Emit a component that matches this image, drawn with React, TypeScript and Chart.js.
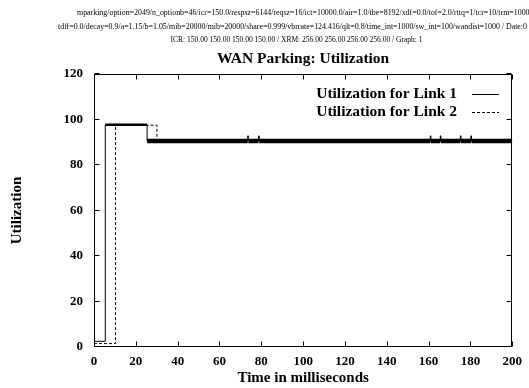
import { useEffect, useRef } from "react";
import { Chart, registerables } from "chart.js";

Chart.register(...registerables);

// Run description printed above the plot
const headerLines = [
  "mparking/option=2049/n_optionb=46/icr=150.0/respsz=6144/reqsz=16/ict=10000.0/air=1.0/tbe=8192/xdf=0.0/tof=2.0/rttq=1/tcr=10/trm=1000",
  "tdff=0.0/decay=0.9/a=1.15/b=1.05/mib=20000/mib=20000/share=0.999/vbrrate=124.416/qlt=0.8/time_int=1000/sw_int=100/wandist=1000 / Date:0",
  "ICR: 150.00 150.00 150.00 150.00 / XRM: 256.00 256.00 256.00 256.00 / Graph: 1",
];
const chartTitle = "WAN Parking: Utilization";
const xTitle = "Time in milliseconds";
const yTitle = "Utilization";
const seriesNames = ["Utilization for Link 1", "Utilization for Link 2"];

// Link 1 utilization (step samples, ms / percent)
const link1Time = [0, 5.4, 25.4, 25.4, 73.5, 73.5, 73.8, 78.7, 78.7, 79.0, 160.8, 160.8, 161.1, 165.6, 165.6, 165.9, 175.2, 175.2, 175.5, 180.2, 180.2, 180.5, 200];
const link1Util = [2.5, 97.7, 97.7, 90.5, 90.5, 92.8, 90.5, 90.5, 92.8, 90.5, 90.5, 92.8, 90.5, 90.5, 92.8, 90.5, 90.5, 92.8, 90.5, 90.5, 92.8, 90.5, 90.5];

// Link 2 utilization
const link2Time = [0, 10.3, 30.1, 200];
const link2Util = [1.5, 97.5, 90.5, 90.5];

// Axis ranges
const xMin = 0, xMax = 200, xStep = 20;
const yMin = 0, yMax = 120, yStep = 20;

const serif = "'Liberation Serif', 'Times New Roman', serif";

const toPoints = (xs: number[], ys: number[]) => xs.map((x, i) => ({ x, y: ys[i] }));

const decorations = {
  id: "decorations",
  afterDraw(chart: any) {
    const { ctx, chartArea: a, scales } = chart;
    const L = Math.round(a.left) + 0.5;
    const R = Math.round(a.right) - 0.5;
    const T = Math.round(a.top) + 0.5;
    const B = Math.round(a.bottom) - 0.5;
    ctx.save();
    ctx.fillStyle = "#000";
    ctx.strokeStyle = "#000";

    // header lines
    ctx.font = `7.9px ${serif}`;
    ctx.textBaseline = "middle";
    ctx.textAlign = "left";
    ctx.fillText(headerLines[0], 77, 12.5);
    ctx.fillText(headerLines[1], 58, 26.5);
    ctx.font = `7.5px ${serif}`;
    ctx.textAlign = "center";
    ctx.fillText(headerLines[2], 296.5, 40.5);

    // title
    ctx.font = `bold 15.5px ${serif}`;
    ctx.fillText(chartTitle, (a.left + a.right) / 2, 59);

    // axis titles
    ctx.font = `bold 15px ${serif}`;
    ctx.fillText(xTitle, (a.left + a.right) / 2, 378);
    ctx.save();
    ctx.translate(17, (a.top + a.bottom) / 2);
    ctx.rotate(-Math.PI / 2);
    ctx.fillText(yTitle, 0, 0);
    ctx.restore();

    // frame
    ctx.lineWidth = 1;
    ctx.setLineDash([]);
    ctx.beginPath();
    ctx.rect(L, T, R - L, B - T);
    ctx.stroke();

    // inward tick marks on all four sides
    const tl = 5;
    ctx.beginPath();
    for (const t of scales.y.ticks) {
      const py = Math.round(scales.y.getPixelForValue(t.value)) - 0.5;
      ctx.moveTo(L, py); ctx.lineTo(L + tl, py);
      ctx.moveTo(R, py); ctx.lineTo(R - tl, py);
    }
    for (const t of scales.x.ticks) {
      const px = Math.round(scales.x.getPixelForValue(t.value)) + 0.5;
      ctx.moveTo(px, B); ctx.lineTo(px, B - tl);
      ctx.moveTo(px, T); ctx.lineTo(px, T + tl);
    }
    ctx.stroke();

    // legend
    ctx.font = `bold 15.5px ${serif}`;
    ctx.textAlign = "right";
    const rows = [94, 112];
    chart.data.datasets.forEach((ds: any, i: number) => {
      const y = rows[i];
      ctx.fillText(ds.label, 457, y);
      ctx.beginPath();
      ctx.lineWidth = 1;
      ctx.setLineDash(ds.borderDash || []);
      ctx.moveTo(472, y + 0.5);
      ctx.lineTo(499, y + 0.5);
      ctx.stroke();
    });
    ctx.restore();
  },
};

export default function App() {
  const canvasRef = useRef<HTMLCanvasElement | null>(null);

  useEffect(() => {
    const canvas = canvasRef.current;
    if (!canvas) return;
    // thicker strokes where the utilization jitters tightly around a level
    const widthFor = (ctx: any) => {
      const a = ctx.p0.parsed.y;
      const b = ctx.p1.parsed.y;
      if (a === b && a > 95) return 2.5;
      if (a === b && a > 85) return 4.5;
      return 1;
    };
    const chart = new Chart(canvas, {
      type: "line",
      data: {
        datasets: [
          {
            label: seriesNames[0],
            data: toPoints(link1Time, link1Util),
            borderColor: "#000",
            borderWidth: 1,
            pointRadius: 0,
            stepped: "before",
            segment: { borderWidth: widthFor },
          },
          {
            label: seriesNames[1],
            data: toPoints(link2Time, link2Util),
            borderColor: "#000",
            borderWidth: 1,
            borderDash: [3, 2],
            pointRadius: 0,
            stepped: "before",
          },
        ],
      },
      options: {
        responsive: false,
        animation: false,
        layout: { padding: { left: 0, top: 74, right: 15, bottom: 0 } },
        plugins: {
          legend: { display: false },
          title: { display: false },
          tooltip: { enabled: false },
        },
        scales: {
          x: {
            type: "linear",
            min: xMin,
            max: xMax,
            grid: { display: false, drawTicks: false },
            border: { display: false },
            ticks: {
              stepSize: xStep,
              padding: 7,
              color: "#000",
              font: { family: serif, size: 13, weight: "bold" },
            },
            afterFit: (s: any) => { s.height = 41; },
          },
          y: {
            type: "linear",
            min: yMin,
            max: yMax,
            grid: { display: false, drawTicks: false },
            border: { display: false },
            ticks: {
              stepSize: yStep,
              padding: 11,
              color: "#000",
              font: { family: serif, size: 13, weight: "bold" },
            },
            afterFit: (s: any) => { s.width = 94; },
          },
        },
      },
      plugins: [decorations],
    });
    return () => chart.destroy();
  }, []);

  return (
    <div style={{ position: "absolute", left: 0, top: 0, width: 529, height: 388, background: "#fff" }}>
      <canvas ref={canvasRef} width={529} height={388} style={{ display: "block" }} />
    </div>
  );
}
